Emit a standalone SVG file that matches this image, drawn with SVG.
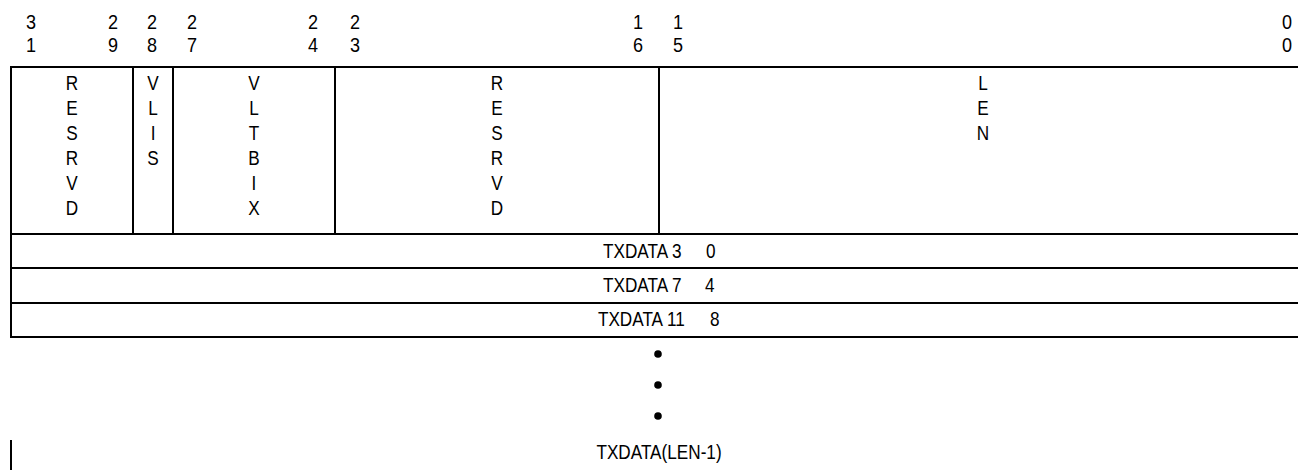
<svg xmlns="http://www.w3.org/2000/svg" width="1298" height="470" viewBox="0 0 1298 470">
<style>
text{font-family:"Liberation Sans",Arial,sans-serif;font-size:19.5px;fill:#000}
.c{text-anchor:middle}
.b{font-size:20.5px;text-anchor:middle}
.ln{stroke:#000;stroke-width:2;fill:none}
</style>
<rect width="1298" height="470" fill="#fff"/>
<g id="connectors">
<path class="ln" d="M11,67H1298M11,234H1298M11,268H1298M11,303H1298M11,337H1298M11,66V338M133,67V234M173,67V234M335,67V234M659,67V234M11,440V470"/>
</g>
<g id="ellipsis">
<circle cx="658" cy="354" r="3.8"/><circle cx="658" cy="385" r="3.8"/><circle cx="658" cy="416" r="3.8"/>
</g>
<g transform="scale(0.88,1)">
<g id="bits">
<text class="b" x="35.2" y="29">3</text><text class="b" x="35.2" y="52">1</text>
<text class="b" x="128.4" y="29">2</text><text class="b" x="128.4" y="52">9</text>
<text class="b" x="172.7" y="29">2</text><text class="b" x="172.7" y="52">8</text>
<text class="b" x="218.2" y="29">2</text><text class="b" x="218.2" y="52">7</text>
<text class="b" x="355.7" y="29">2</text><text class="b" x="355.7" y="52">4</text>
<text class="b" x="403.4" y="29">2</text><text class="b" x="403.4" y="52">3</text>
<text class="b" x="725" y="29">1</text><text class="b" x="725" y="52">6</text>
<text class="b" x="770.5" y="29">1</text><text class="b" x="770.5" y="52">5</text>
<text class="b" x="1462.5" y="29">0</text><text class="b" x="1462.5" y="52">0</text>
</g>
<g id="resrvd1">
<text class="c" x="81.8" y="90">R</text><text class="c" x="81.8" y="115">E</text><text class="c" x="81.8" y="140">S</text><text class="c" x="81.8" y="165">R</text><text class="c" x="81.8" y="190">V</text><text class="c" x="81.8" y="215">D</text>
</g>
<g id="vlis">
<text class="c" x="173.9" y="90">V</text><text class="c" x="173.9" y="115">L</text><text class="c" x="173.9" y="140">I</text><text class="c" x="173.9" y="165">S</text>
</g>
<g id="vltbix">
<text class="c" x="288.6" y="90">V</text><text class="c" x="288.6" y="115">L</text><text class="c" x="288.6" y="140">T</text><text class="c" x="288.6" y="165">B</text><text class="c" x="288.6" y="190">I</text><text class="c" x="288.6" y="215">X</text>
</g>
<g id="resrvd2">
<text class="c" x="564.8" y="90">R</text><text class="c" x="564.8" y="115">E</text><text class="c" x="564.8" y="140">S</text><text class="c" x="564.8" y="165">R</text><text class="c" x="564.8" y="190">V</text><text class="c" x="564.8" y="215">D</text>
</g>
<g id="len">
<text class="c" x="1117" y="90">L</text><text class="c" x="1117" y="115">E</text><text class="c" x="1117" y="140">N</text>
</g>
<g id="txdata3">
<text x="685.2" y="258">TXDATA 3<tspan x="802.3">0</tspan></text>
</g>
<g id="txdata7">
<text x="685.2" y="292">TXDATA 7<tspan x="801.1">4</tspan></text>
</g>
<g id="txdata11">
<text x="679.5" y="326">TXDATA 11<tspan x="806.8">8</tspan></text>
</g>
<g id="txdatalen">
<text class="c" x="748.9" y="459">TXDATA(LEN-1)</text>
</g>
</g>
</svg>
